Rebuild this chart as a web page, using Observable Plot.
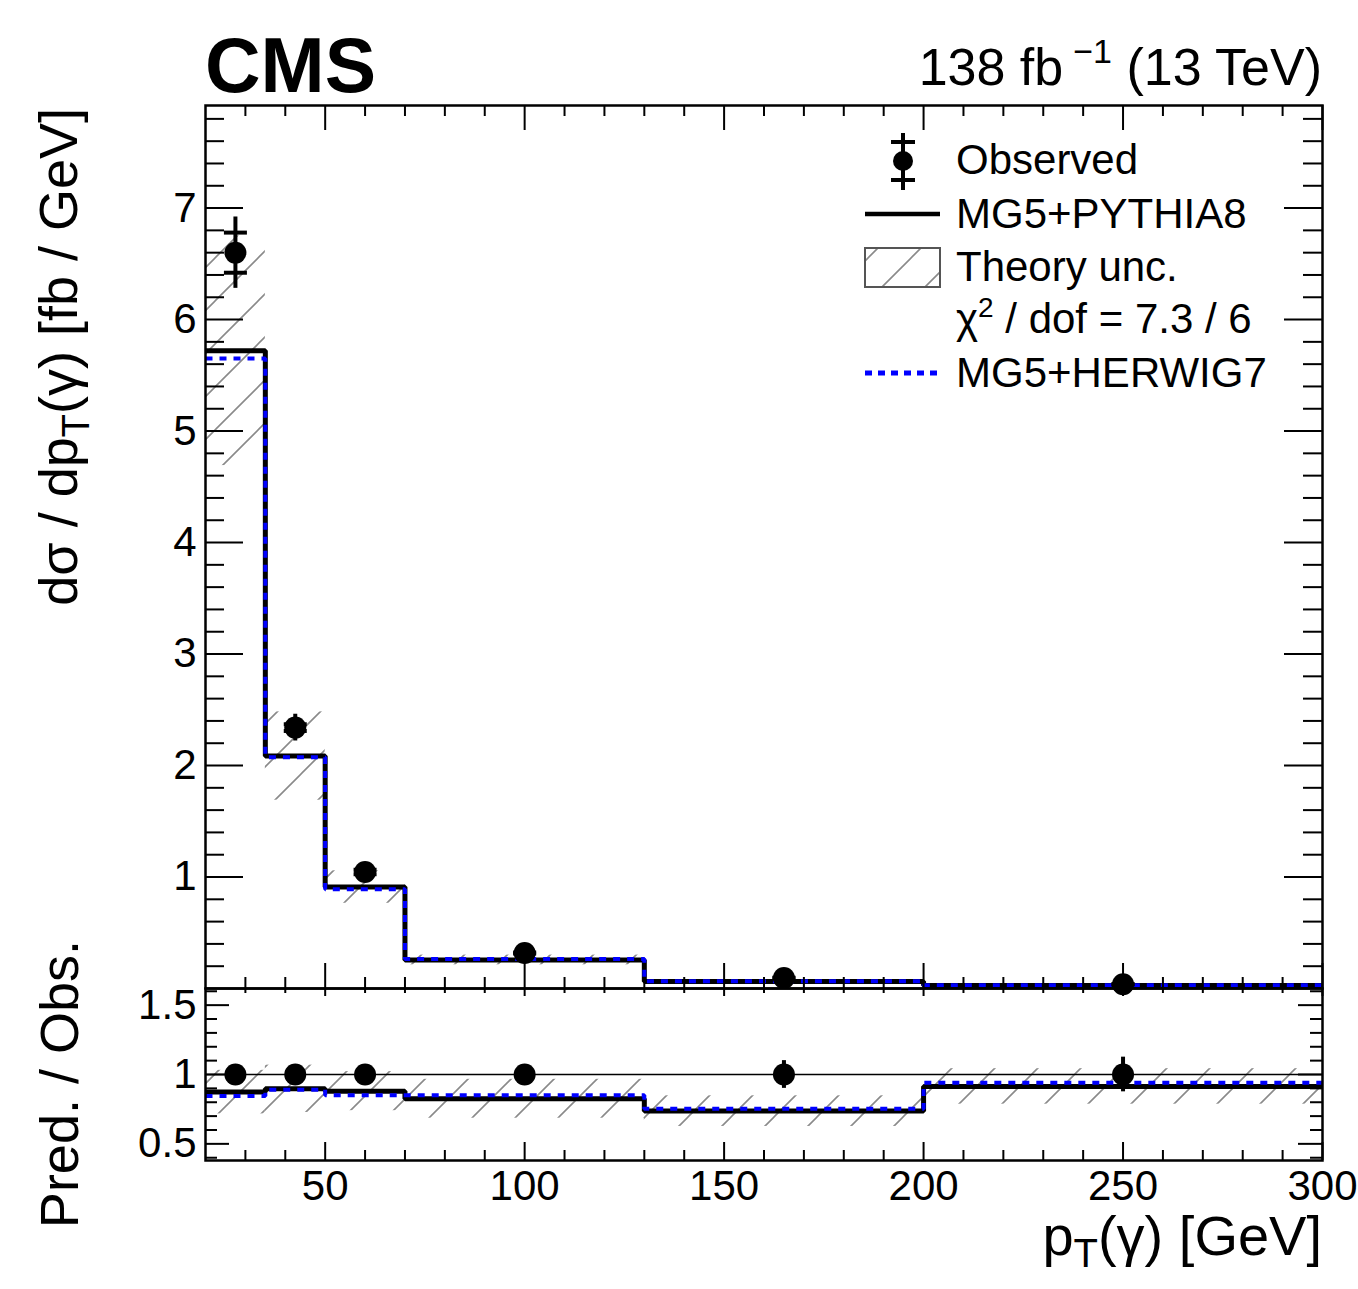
<!DOCTYPE html>
<html><head><meta charset="utf-8">
<script src="https://cdn.jsdelivr.net/npm/d3@7"></script>
<script src="https://cdn.jsdelivr.net/npm/@observablehq/plot@0.6"></script>
<style>
html,body{margin:0;padding:0;background:#fff;overflow:hidden;}
#wrap{position:relative;width:1358px;height:1289px;overflow:hidden;background:#fff;font-family:"Liberation Sans",Arial,Helvetica,sans-serif;}
#wrap svg{position:absolute;left:0;}
</style></head><body><div id="wrap"></div>
<script>
// ---- data ----
const binLo = [20, 35, 50, 70, 130, 200];
const binHi = [35, 50, 70, 130, 200, 300];
const binCenter = [27.5, 42.5, 60, 100, 165, 250];
const observed = [6.60, 2.34, 1.045, 0.318, 0.094, 0.038];
const obsStat = [0.18, 0.03, 0.02, 0.005, 0.003, 0.002];
const obsTotal = [0.32, 0.12, 0.06, 0.02, 0.01, 0.006];
const pythia = [5.72, 2.085, 0.91, 0.256, 0.062, 0.027];
const herwig = [5.65, 2.075, 0.89, 0.265, 0.066, 0.029];
const theoryRelUnc = [0.18, 0.19, 0.16, 0.17, 0.15, 0.14];
const ratioPythia = [0.873, 0.897, 0.88, 0.825, 0.736, 0.914];
const ratioHerwig = [0.845, 0.89, 0.85, 0.85, 0.753, 0.94];
const ratioObsErr = [0.05, 0.05, 0.05, 0.05, 0.1, 0.125];
const xMajorTicks = [50, 100, 150, 200, 250, 300];
const yMainTicks = [1, 2, 3, 4, 5, 6, 7];
const yRatioTicks = [0.5, 1, 1.5];
const xMinorTicks = d3.range(3, 30).filter(i => i % 5 !== 0).map(i => i * 10);
const yMainMinor = d3.range(1, 40).filter(i => i % 5 !== 0).map(i => i / 5);
const yRatioMinor = d3.range(4, 17).filter(i => i % 5 !== 0).map(i => i / 10);

const rows = binLo.map((lo, i) => ({
  lo, hi: binHi[i], c: binCenter[i], o: observed[i], st: obsStat[i], tot: obsTotal[i],
  p: pythia[i], h: herwig[i], u: theoryRelUnc[i], rp: ratioPythia[i], rh: ratioHerwig[i], re: ratioObsErr[i]
}));
const step = vals => vals.flatMap((v, i) => [{x: binLo[i], y: v}, {x: binHi[i], y: v}]);

const FONT = '"Liberation Sans", Arial, Helvetica, sans-serif';
const W = 1358, mL = 205, mR = 36;
const pw = W - mL - mR;
const BLUE = "#0000ff";
const hbar = {draw(ctx, size) { const r = Math.sqrt(size / Math.PI); ctx.moveTo(-r, 0); ctx.lineTo(r, 0); }};

function frameTicks(ph, L) {
  const s = {stroke: "black", strokeWidth: 2};
  return [
    Plot.tickX(L.xMaj, {x: d => d, insetTop: ph - L.xb, ...s}),
    Plot.tickX(L.xMin, {x: d => d, insetTop: ph - L.xbm, ...s}),
    Plot.tickX(L.xMaj, {x: d => d, insetBottom: ph - L.xt, ...s}),
    Plot.tickX(L.xMin, {x: d => d, insetBottom: ph - L.xtm, ...s}),
    Plot.tickY(L.yMaj, {y: d => d, insetRight: pw - L.y, ...s}),
    Plot.tickY(L.yMin, {y: d => d, insetRight: pw - L.ym, ...s}),
    Plot.tickY(L.yMaj, {y: d => d, insetLeft: pw - L.y, ...s}),
    Plot.tickY(L.yMin, {y: d => d, insetLeft: pw - L.ym, ...s})
  ];
}

function addPattern(svg, id) {
  const ns = "http://www.w3.org/2000/svg";
  const defs = document.createElementNS(ns, "defs");
  const pat = document.createElementNS(ns, "pattern");
  pat.setAttribute("id", id);
  pat.setAttribute("patternUnits", "userSpaceOnUse");
  pat.setAttribute("width", "43");
  pat.setAttribute("height", "43");
  const path = document.createElementNS(ns, "path");
  path.setAttribute("d", "M0,43L43,0M-10,10L10,-10M33,53L53,33");
  path.setAttribute("stroke", "#8a8a8a");
  path.setAttribute("stroke-width", "1.6");
  path.setAttribute("fill", "none");
  pat.appendChild(path);
  defs.appendChild(pat);
  svg.insertBefore(defs, svg.firstChild);
}

// ---- main panel ----
const mainH = 990, mainTop = 105, mainBottom = 2;
const mainPH = mainH - mainTop - mainBottom;
const main = Plot.plot({
  width: W, height: mainH, marginLeft: mL, marginRight: mR, marginTop: mainTop, marginBottom: mainBottom,
  x: {domain: [20, 300], axis: null},
  y: {domain: [0, 7.92], axis: null},
  style: {fontFamily: FONT, background: "transparent", overflow: "visible", color: "black"},
  marks: [
    Plot.rect(rows, {x1: "lo", x2: "hi", y1: d => d.p * (1 - d.u), y2: d => d.p * (1 + d.u), fill: "url(#hatchMain)"}),
    Plot.line(step(pythia), {x: "x", y: "y", stroke: "black", strokeWidth: 5, strokeLinejoin: "miter", strokeLinecap: "butt"}),
    Plot.line(step(herwig), {x: "x", y: "y", stroke: BLUE, strokeWidth: 4, strokeDasharray: "7,7", strokeLinejoin: "miter", strokeLinecap: "butt"}),
    Plot.ruleX(rows, {x: "c", y1: d => d.o - d.tot, y2: d => d.o + d.tot, stroke: "black", strokeWidth: 4}),
    Plot.dot(rows.flatMap(d => [{c: d.c, y: d.o - d.st}, {c: d.c, y: d.o + d.st}]), {x: "c", y: "y", symbol: hbar, r: 11.5, stroke: "black", strokeWidth: 4, fill: "none"}),
    Plot.dot(rows, {x: "c", y: "o", r: 11, fill: "black", stroke: "none"}),
    ...frameTicks(mainPH, {xMaj: xMajorTicks, xMin: xMinorTicks, yMaj: yMainTicks, yMin: yMainMinor, xb: 25, xbm: 11, xt: 25, xtm: 11, y: 38, ym: 19}),
    Plot.frame({stroke: "black", strokeWidth: 2.5}),
    Plot.axisY(yMainTicks, {anchor: "left", tickSize: 0, tickPadding: 9, fontSize: 42, label: null, tickFormat: d => String(d)})
  ]
});
addPattern(main, "hatchMain");
main.style.top = "0px";

// ---- ratio panel ----
const ratH = 301, ratTop = 0, ratBottom = 129;
const ratPH = ratH - ratTop - ratBottom;
const ratio = Plot.plot({
  width: W, height: ratH, marginLeft: mL, marginRight: mR, marginTop: ratTop, marginBottom: ratBottom,
  x: {domain: [20, 300], axis: null},
  y: {domain: [0.38, 1.62], axis: null},
  style: {fontFamily: FONT, background: "transparent", overflow: "visible", color: "black"},
  marks: [
    Plot.rect(rows, {x1: "lo", x2: "hi", y1: d => d.rp * (1 - d.u), y2: d => d.rp * (1 + d.u), fill: "url(#hatchRatio)"}),
    Plot.ruleY([1], {stroke: "black", strokeWidth: 1.5}),
    Plot.line(step(ratioPythia), {x: "x", y: "y", stroke: "black", strokeWidth: 5, strokeLinejoin: "miter", strokeLinecap: "butt"}),
    Plot.line(step(ratioHerwig), {x: "x", y: "y", stroke: BLUE, strokeWidth: 4, strokeDasharray: "7,7", strokeLinejoin: "miter", strokeLinecap: "butt"}),
    Plot.ruleX(rows, {x: "c", y1: d => 1 - d.re, y2: d => 1 + d.re, stroke: "black", strokeWidth: 4}),
    Plot.dot(rows, {x: "c", y: () => 1, r: 11, fill: "black", stroke: "none"}),
    ...frameTicks(ratPH, {xMaj: xMajorTicks, xMin: xMinorTicks, yMaj: yRatioTicks, yMin: yRatioMinor, xb: 18, xbm: 10, xt: 8, xtm: 5, y: 24, ym: 12}),
    Plot.frame({stroke: "black", strokeWidth: 2.5}),
    Plot.axisY(yRatioTicks, {anchor: "left", tickSize: 0, tickPadding: 9, fontSize: 42, label: null, tickFormat: d => String(d)}),
    Plot.axisX(xMajorTicks, {anchor: "bottom", tickSize: 0, tickPadding: 10, fontSize: 42, label: null, tickFormat: d => String(d)})
  ]
});
addPattern(ratio, "hatchRatio");
ratio.style.top = "988px";

const wrap = document.getElementById("wrap");
wrap.appendChild(main);
wrap.appendChild(ratio);

// ---- titles and legend ----
const ann = `
<svg xmlns="http://www.w3.org/2000/svg" width="1358" height="1289" style="top:0;left:0;font-family:${FONT.replace(/"/g, "'")}">
  <defs>
    <pattern id="hatchLeg" patternUnits="userSpaceOnUse" width="43" height="43" x="8" y="0">
      <path d="M0,43L43,0M-10,10L10,-10M33,53L53,33" stroke="#8a8a8a" stroke-width="1.6" fill="none"/>
    </pattern>
  </defs>
  <text x="205" y="92" font-size="77" font-weight="bold" fill="black">CMS</text>
  <text x="1322" y="85" font-size="52" text-anchor="end" fill="black">138 fb<tspan dx="10" dy="-22" font-size="34">−1</tspan><tspan dy="22" font-size="52"> (13 TeV)</tspan></text>
  <text transform="translate(77,108) rotate(-90)" text-anchor="end" font-size="54" fill="black">dσ / dp<tspan dy="12" font-size="38">T</tspan><tspan dy="-12">(γ) [fb / GeV]</tspan></text>
  <text transform="translate(78,940) rotate(-90)" text-anchor="end" font-size="54" fill="black">Pred. / Obs.</text>
  <text x="1322" y="1255" text-anchor="end" font-size="56" fill="black">p<tspan dy="12" font-size="40">T</tspan><tspan dy="-12">(γ) [GeV]</tspan></text>
  <g fill="black" font-size="42">
    <line x1="903" y1="133" x2="903" y2="190" stroke="black" stroke-width="4"/>
    <line x1="891" y1="142" x2="915" y2="142" stroke="black" stroke-width="4"/>
    <line x1="891" y1="180" x2="915" y2="180" stroke="black" stroke-width="4"/>
    <circle cx="903" cy="161" r="10" fill="black"/>
    <text x="956" y="174">Observed</text>
    <line x1="865" y1="214" x2="940" y2="214" stroke="black" stroke-width="4.5"/>
    <text x="956" y="228">MG5+PYTHIA8</text>
    <rect x="865" y="248" width="75" height="39" fill="url(#hatchLeg)" stroke="#555" stroke-width="2"/>
    <text x="956" y="281">Theory unc.</text>
    <text x="956" y="333">χ<tspan dy="-16" font-size="28">2</tspan><tspan dy="16"> / dof = 7.3 / 6</tspan></text>
    <line x1="865" y1="373" x2="940" y2="373" stroke="${BLUE}" stroke-width="5" stroke-dasharray="7,6"/>
    <text x="956" y="387">MG5+HERWIG7</text>
  </g>
</svg>`;
wrap.insertAdjacentHTML("beforeend", ann);
</script>
</body></html>
